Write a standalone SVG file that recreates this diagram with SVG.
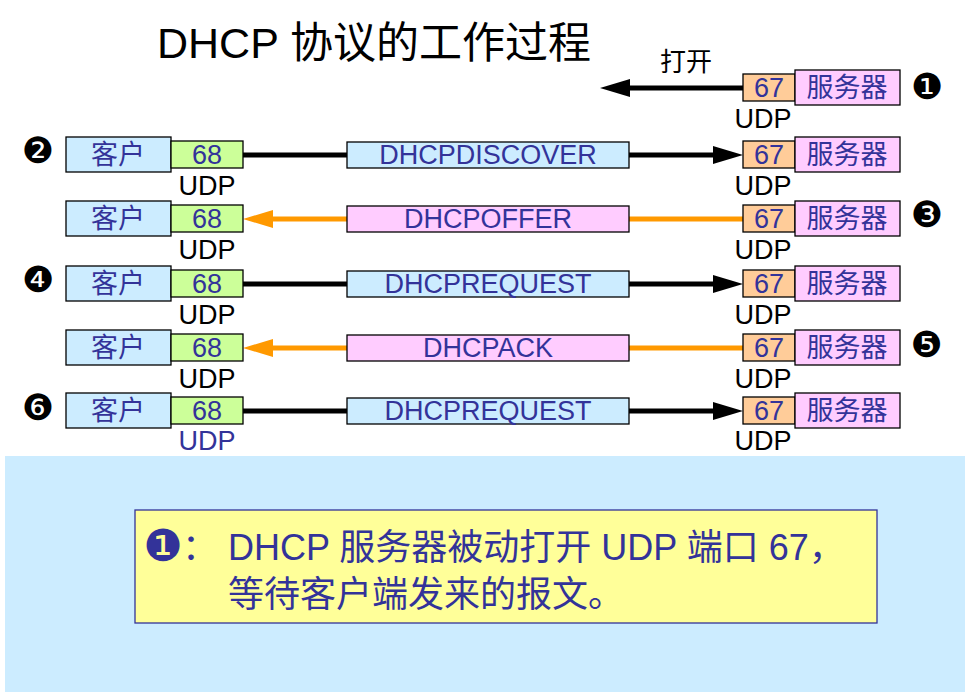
<svg xmlns="http://www.w3.org/2000/svg" width="965" height="692" viewBox="0 0 965 692">
<style>
.t{font-family:"Liberation Sans","Noto Sans CJK SC",sans-serif;}
.lbl{font-size:27px;fill:#333399;text-anchor:middle;}
.udp{font-size:27px;fill:#000;text-anchor:middle;}
.num{font-family:"DejaVu Sans",sans-serif;font-size:36px;text-anchor:middle;dominant-baseline:central;fill:#000;}
.client{fill:#CCECFF;stroke:#000;stroke-width:1.3;}
.p68{fill:#CCFF99;stroke:#000;stroke-width:1.3;}
.p67{fill:#FFCC99;stroke:#000;stroke-width:1.3;}
.server{fill:#FFCCFF;stroke:#000;stroke-width:1.3;}
.mblue{fill:#CCECFF;stroke:#000;stroke-width:1.3;}
.mpink{fill:#FFCCFF;stroke:#000;stroke-width:1.3;}
.blk{stroke:#000;stroke-width:5;fill:none;marker-end:url(#ab);}
.org{stroke:#FF9900;stroke-width:5;fill:none;marker-end:url(#ao);}
</style>
<defs>
<marker id="ab" markerUnits="userSpaceOnUse" markerWidth="32" markerHeight="20" refX="0" refY="9" orient="auto" viewBox="0 0 32 20"><polygon points="0,0 30,9 0,18" fill="#000"/></marker>
<marker id="ao" markerUnits="userSpaceOnUse" markerWidth="32" markerHeight="20" refX="0" refY="9" orient="auto" viewBox="0 0 32 20"><polygon points="0,0 30,9 0,18" fill="#FF9900"/></marker>
</defs>
<rect width="965" height="692" fill="#fff"/>
<text class="t" x="157" y="58" font-size="43" fill="#000">DHCP 协议的工作过程</text>

<g id="connectors">
<path class="blk" d="M743,88 H630"/>
<path class="blk" d="M243,155 H713"/>
<path class="org" d="M743,219 H273"/>
<path class="blk" d="M243,284 H713"/>
<path class="org" d="M743,348 H273"/>
<path class="blk" d="M243,411 H713"/>
</g>
<text class="t" x="686" y="71" font-size="26" fill="#000" text-anchor="middle">打开</text>

<g id="row1">
<rect class="p67" x="743" y="74" width="52" height="27"/>
<text class="t lbl" x="769" y="97">67</text>
<rect class="server" x="795" y="70" width="105" height="35"/>
<text class="t lbl" x="847" y="97">服务器</text>
<text class="t udp" x="763" y="128">UDP</text>
<text class="num" x="927" y="86">❶</text>
</g>

<g id="row2">
<rect class="client" x="66" y="137" width="105" height="35"/>
<text class="t lbl" x="118" y="164">客户</text>
<rect class="p68" x="171" y="141" width="72" height="27"/>
<text class="t lbl" x="207" y="164">68</text>
<rect class="mblue" x="347" y="142" width="282" height="26"/>
<text class="t lbl" x="488" y="164">DHCPDISCOVER</text>
<rect class="p67" x="743" y="141" width="52" height="27"/>
<text class="t lbl" x="769" y="164">67</text>
<rect class="server" x="795" y="137" width="105" height="35"/>
<text class="t lbl" x="847" y="164">服务器</text>
<text class="t udp" x="207" y="195">UDP</text>
<text class="t udp" x="763" y="195">UDP</text>
<text class="num" x="38" y="150">❷</text>
</g>

<g id="row3">
<rect class="client" x="66" y="201" width="105" height="35"/>
<text class="t lbl" x="118" y="228">客户</text>
<rect class="p68" x="171" y="205" width="72" height="27"/>
<text class="t lbl" x="207" y="228">68</text>
<rect class="mpink" x="347" y="206" width="282" height="26"/>
<text class="t lbl" x="488" y="228">DHCPOFFER</text>
<rect class="p67" x="743" y="205" width="52" height="27"/>
<text class="t lbl" x="769" y="228">67</text>
<rect class="server" x="795" y="201" width="105" height="35"/>
<text class="t lbl" x="847" y="228">服务器</text>
<text class="t udp" x="207" y="259">UDP</text>
<text class="t udp" x="763" y="259">UDP</text>
<text class="num" x="927" y="214">❸</text>
</g>

<g id="row4">
<rect class="client" x="66" y="266" width="105" height="35"/>
<text class="t lbl" x="118" y="293">客户</text>
<rect class="p68" x="171" y="270" width="72" height="27"/>
<text class="t lbl" x="207" y="293">68</text>
<rect class="mblue" x="347" y="271" width="282" height="26"/>
<text class="t lbl" x="488" y="293">DHCPREQUEST</text>
<rect class="p67" x="743" y="270" width="52" height="27"/>
<text class="t lbl" x="769" y="293">67</text>
<rect class="server" x="795" y="266" width="105" height="35"/>
<text class="t lbl" x="847" y="293">服务器</text>
<text class="t udp" x="207" y="324">UDP</text>
<text class="t udp" x="763" y="324">UDP</text>
<text class="num" x="38" y="279">❹</text>
</g>

<g id="row5">
<rect class="client" x="66" y="330" width="105" height="35"/>
<text class="t lbl" x="118" y="357">客户</text>
<rect class="p68" x="171" y="334" width="72" height="27"/>
<text class="t lbl" x="207" y="357">68</text>
<rect class="mpink" x="347" y="335" width="282" height="26"/>
<text class="t lbl" x="488" y="357">DHCPACK</text>
<rect class="p67" x="743" y="334" width="52" height="27"/>
<text class="t lbl" x="769" y="357">67</text>
<rect class="server" x="795" y="330" width="105" height="35"/>
<text class="t lbl" x="847" y="357">服务器</text>
<text class="t udp" x="207" y="388">UDP</text>
<text class="t udp" x="763" y="388">UDP</text>
<text class="num" x="927" y="344">❺</text>
</g>

<g id="row6">
<rect class="client" x="66" y="393" width="105" height="35"/>
<text class="t lbl" x="118" y="420">客户</text>
<rect class="p68" x="171" y="397" width="72" height="27"/>
<text class="t lbl" x="207" y="420">68</text>
<rect class="mblue" x="347" y="398" width="282" height="26"/>
<text class="t lbl" x="488" y="420">DHCPREQUEST</text>
<rect class="p67" x="743" y="397" width="52" height="27"/>
<text class="t lbl" x="769" y="420">67</text>
<rect class="server" x="795" y="393" width="105" height="35"/>
<text class="t lbl" x="847" y="420">服务器</text>
<text class="t udp" x="207" y="450" style="fill:#333399">UDP</text>
<text class="t udp" x="763" y="450">UDP</text>
<text class="num" x="38" y="407">❻</text>
</g>

<g id="note">
<rect x="5" y="456" width="960" height="236" fill="#CCECFF"/>
<rect x="135" y="510" width="742" height="113" fill="#FFFF99" stroke="#333399" stroke-width="1.3"/>
<text x="163" y="545" font-family="DejaVu Sans,sans-serif" font-size="44" fill="#333399" text-anchor="middle" dominant-baseline="central">❶</text>
<text class="t" x="182" y="560" font-size="36" fill="#333399">：</text>
<text class="t" x="228" y="560" font-size="36" fill="#333399">DHCP 服务器被动打开 UDP 端口 67，</text>
<text class="t" x="228" y="607" font-size="36" fill="#333399">等待客户端发来的报文。</text>
</g>
</svg>
